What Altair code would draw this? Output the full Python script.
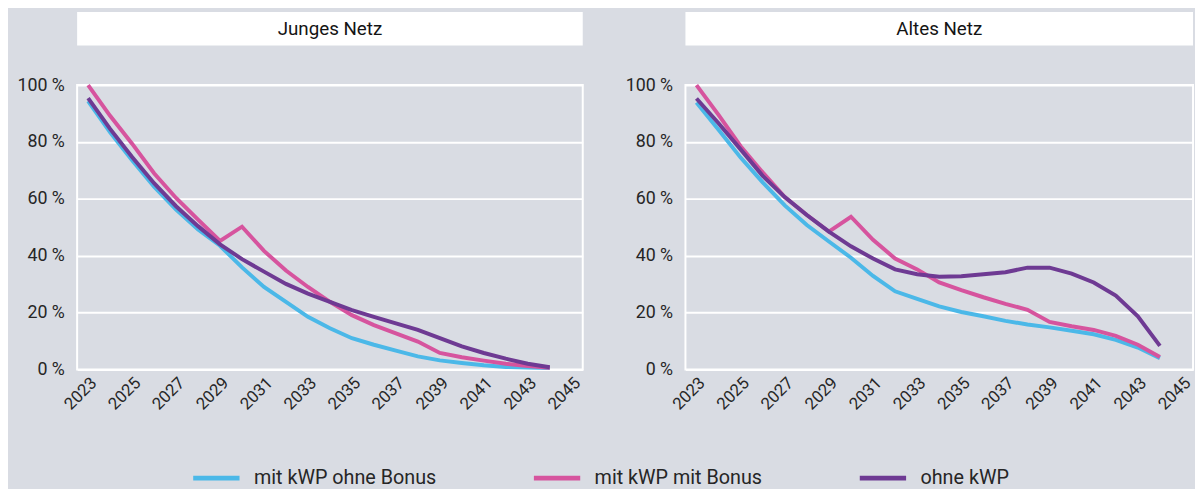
import altair as alt
import pandas as pd

years = list(range(2023, 2045))
series_names = ["mit kWP ohne Bonus", "mit kWP mit Bonus", "ohne kWP"]
series_colors = ["#4bb8e8", "#d6549e", "#6e3a93"]
panel_titles = ["Junges Netz", "Altes Netz"]
tick_years = list(range(2023, 2046, 2))
y_ticks = [0, 20, 40, 60, 80, 100]

# Junges Netz
jung_ohne_bonus = [94.4, 83.4, 73.6, 64.3, 56.2, 49.2, 43.5, 35.9, 29.0, 23.8, 18.5,
                   14.5, 11.0, 8.7, 6.6, 4.6, 3.2, 2.3, 1.5, 0.9, 0.7, 0.5]
jung_mit_bonus = [100.0, 89.2, 79.4, 69.0, 60.3, 52.7, 45.2, 50.2, 41.7, 34.8, 29.0,
                  23.8, 19.1, 15.6, 12.7, 9.8, 5.8, 4.3, 3.1, 2.0, 1.2, 0.6]
jung_ohne_kwp = [95.4, 84.6, 74.7, 65.5, 57.4, 50.4, 44.0, 38.8, 34.4, 30.1, 26.7,
                 23.8, 20.9, 18.5, 16.2, 13.9, 11.0, 8.1, 5.8, 3.8, 2.0, 0.8]

# Altes Netz
alt_ohne_bonus = [93.9, 84.3, 74.5, 65.8, 57.7, 50.8, 45.0, 39.3, 32.9, 27.5, 24.8,
                  22.2, 20.2, 18.7, 17.1, 15.8, 14.8, 13.6, 12.4, 10.4, 7.7, 4.0]
alt_mit_bonus = [100.0, 89.5, 78.5, 69.3, 60.6, 54.3, 48.5, 53.7, 45.6, 39.0, 35.2,
                 30.6, 27.9, 25.4, 23.1, 21.0, 16.7, 15.2, 13.9, 11.8, 8.7, 4.4]
alt_ohne_kwp = [95.3, 86.6, 77.4, 68.1, 60.6, 54.3, 48.5, 43.3, 39.0, 35.2, 33.5,
                32.6, 32.8, 33.5, 34.2, 35.8, 35.8, 33.7, 30.6, 26.0, 18.7, 8.3]

FONT = "Roboto"
TEXT = "#262626"


def make_df(values_by_series):
    rows = []
    for name, vals in zip(series_names, values_by_series):
        for yr, v in zip(years, vals):
            rows.append({"year": yr, "value": v, "series": name})
    return pd.DataFrame(rows)


def panel(title, df, width, height=288):
    head = pd.DataFrame({"title": [title]})
    box = alt.Chart(head).mark_rect(color="white").encode(
        x=alt.value(0), x2=alt.value(width), y=alt.value(-74), y2=alt.value(-40)
    )
    txt = alt.Chart(head).mark_text(
        font=FONT, fontSize=19, fontWeight="normal", color="#141414"
    ).encode(x=alt.value(width / 2), y=alt.value(-57), text="title:N")
    lines = alt.Chart(df).mark_line(strokeWidth=4).encode(
        x=alt.X(
            "year:Q",
            scale=alt.Scale(domain=[2022.5, 2045.5], nice=False, zero=False),
            axis=alt.Axis(
                values=tick_years, format="d", labelAngle=-45, title=None,
                grid=False, ticks=False, domain=False, labelFlush=False,
                labelFontSize=17, labelPadding=5, labelFont=FONT, labelColor=TEXT,
            ),
        ),
        y=alt.Y(
            "value:Q",
            scale=alt.Scale(domain=[0, 100], nice=False),
            axis=alt.Axis(
                values=y_ticks, labelExpr="datum.value + ' %'", title=None,
                grid=True, gridColor="white", gridWidth=2, ticks=False,
                domain=False, labelPadding=13, labelFontSize=18,
                labelFont=FONT, labelColor=TEXT,
            ),
        ),
        color=alt.Color(
            "series:N",
            scale=alt.Scale(domain=series_names, range=series_colors),
            legend=alt.Legend(
                title=None, orient="none", direction="horizontal",
                legendX=115, legendY=372,
                symbolType="stroke", symbolSize=2200, symbolStrokeWidth=5,
                labelFontSize=20, labelFont=FONT, labelColor=TEXT,
                labelOffset=12, columnPadding=88, labelLimit=400,
            ),
        ),
    )
    return alt.layer(box, txt, lines).properties(width=width, height=height)


left = panel(panel_titles[0], make_df([jung_ohne_bonus, jung_mit_bonus, jung_ohne_kwp]), 512)
right = panel(panel_titles[1], make_df([alt_ohne_bonus, alt_mit_bonus, alt_ohne_kwp]), 514)

chart = (
    alt.hconcat(left, right, spacing=40)
    .properties(
        background="#d9dce3",
        padding={"left": 8, "top": 0, "right": 0, "bottom": 0},
    )
    .configure_view(stroke="white", strokeWidth=2, fill=None)
)

chart.save("out.html", embed_options={"renderer": "svg", "actions": False})
